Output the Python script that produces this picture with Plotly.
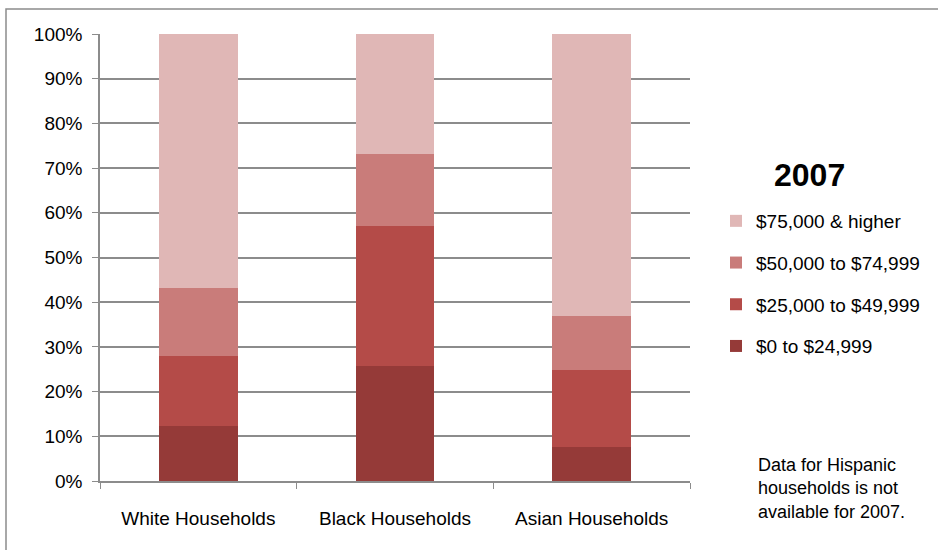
import plotly.graph_objects as go

categories = ["White Households", "Black Households", "Asian Households"]
series_names = ["$0 to $24,999", "$25,000 to $49,999", "$50,000 to $74,999", "$75,000 & higher"]
share_0_25k = [12.3, 25.8, 7.5]
share_25_50k = [15.7, 31.2, 17.3]
share_50_75k = [15.1, 16.2, 12.2]
share_75k_up = [56.9, 26.8, 63.0]
series_values = [share_0_25k, share_25_50k, share_50_75k, share_75k_up]
colors = ["#953a38", "#b44b48", "#c97c7a", "#e0b7b6"]
y_ticks = [0, 10, 20, 30, 40, 50, 60, 70, 80, 90, 100]
y_tick_labels = [f"{v}%" for v in y_ticks]

FONT = "Liberation Sans"

fig = go.Figure()
n = len(series_names)
for i, (name, vals, col) in enumerate(zip(series_names, series_values, colors)):
    fig.add_trace(go.Bar(
        x=categories, y=vals, name=name, marker_color=col,
        marker_line_width=0, legendgroup=name, legendrank=n - i,
    ))

fig.update_layout(
    barmode="stack",
    bargap=0.6,
    width=938, height=550,
    margin=dict(l=100, r=248, t=34, b=69),
    plot_bgcolor="white", paper_bgcolor="white",
    font=dict(family=FONT, size=19, color="black"),
    showlegend=True,
    legend=dict(
        x=(716 - 100) / 590, y=(481 - 202) / 447, xanchor="left", yanchor="top",
        traceorder="grouped",
        tracegroupgap=14,
        font=dict(size=19),
        itemwidth=30,
    ),
    xaxis=dict(
        showline=True, linecolor="#8c8c8c", linewidth=1.5,
        ticks="outside", tickson="boundaries", ticklen=6, tickcolor="#8c8c8c",
        tickfont=dict(size=19), ticklabelstandoff=19,
    ),
    yaxis=dict(
        range=[0, 100], tickvals=y_ticks, ticktext=y_tick_labels,
        showline=True, linecolor="#8c8c8c", linewidth=1.5,
        ticks="outside", ticklen=6, tickcolor="#8c8c8c",
        showgrid=True, gridcolor="#8c8c8c", gridwidth=1.5,
        tickfont=dict(size=19), zeroline=False, ticklabelstandoff=6,
    ),
    shapes=[dict(
        type="rect", xref="paper", yref="paper",
        x0=(6 - 100) / 590, x1=(945 - 100) / 590,
        y0=(481 - 560) / 447, y1=(481 - 9) / 447,
        line=dict(color="#8c8c8c", width=1.5), fillcolor="rgba(0,0,0,0)",
        layer="below",
    )],
    annotations=[
        dict(
            text="<b>2007</b>", xref="paper", yref="paper",
            x=(810 - 100) / 590, y=(481 - 175) / 447,
            xanchor="center", yanchor="middle", showarrow=False,
            font=dict(size=32),
        ),
        dict(
            text="Data for Hispanic<br>households is not<br>available for 2007.",
            xref="paper", yref="paper", x=(756 - 100) / 590, y=(481 - 453) / 447,
            xanchor="left", yanchor="top", align="left", showarrow=False,
            font=dict(size=18),
        ),
    ],
)

fig.write_html("out.html")
